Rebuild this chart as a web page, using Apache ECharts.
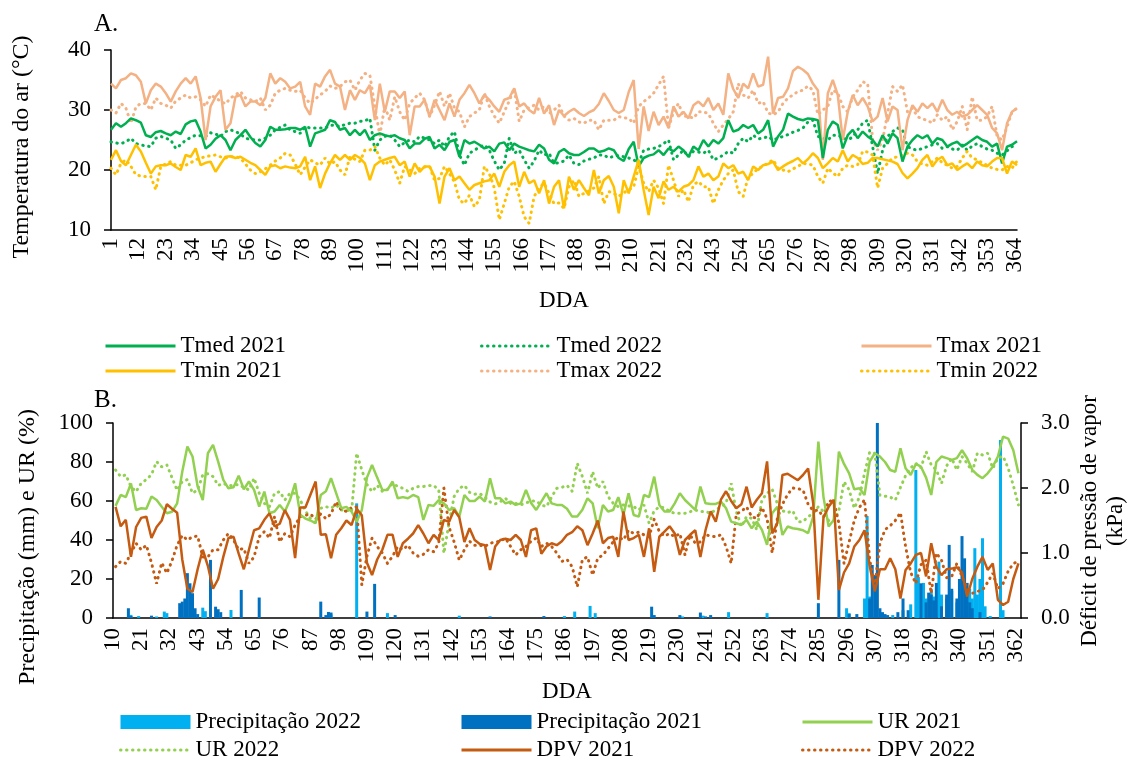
<!DOCTYPE html>
<html>
<head>
<meta charset="utf-8">
<script src="https://cdn.jsdelivr.net/npm/echarts@6/dist/echarts.min.js"></script>
<style>
  html, body { margin: 0; padding: 0; background: #fff; }
  #chart { width: 1128px; height: 760px; }
</style>
</head>
<body>
<div id="chart"></div>
<script>
// Day-of-year categories for the two panels
const daysTop = Array.from({ length: 365 }, (_, i) => String(i + 1));      // 1..365
const daysBottom = Array.from({ length: 355 }, (_, i) => String(i + 10)); // 10..364

// Panel A: air temperature (°C), one value every second day (days 1, 3, 5, ... 365)
const tmax2021 = [
34.4,33.6,35.0,35.3,36.1,35.8,34.7,31.1,33.3,34.4,
33.9,32.8,31.4,33.1,34.4,35.3,34.4,35.6,32.0,25.0,
30.6,32.2,33.3,26.7,27.8,32.2,32.5,30.6,31.4,31.4,
30.8,32.0,36.1,34.4,35.3,34.7,33.6,33.9,34.7,30.6,
29.2,34.4,33.9,35.6,36.7,34.4,33.9,30.0,33.3,31.7,
33.3,32.8,34.2,28.3,34.4,29.7,33.1,33.1,32.0,33.1,
25.8,30.6,30.6,31.7,28.9,31.7,30.0,28.3,31.1,28.9,
31.7,32.8,34.2,32.8,31.1,32.5,31.7,30.6,29.7,31.7,
32.0,33.6,30.6,31.1,30.0,29.4,32.0,29.4,30.8,27.5,
30.0,29.0,29.7,30.2,29.5,29.0,29.6,30.0,31.0,32.8,
31.5,30.0,29.5,30.0,33.0,35.0,23.5,30.6,26.5,29.7,
27.5,28.9,27.0,30.6,28.9,29.7,28.6,30.8,31.4,30.6,
32.0,30.0,31.1,29.2,36.1,33.5,32.0,34.4,33.6,36.1,
33.9,34.2,38.9,29.4,32.0,32.2,33.6,36.5,37.2,36.7,
36.0,34.4,33.3,21.7,32.8,35.0,32.5,25.0,29.7,32.5,
30.8,32.0,30.6,28.1,28.9,32.0,28.1,30.6,30.0,23.3,
28.3,30.8,29.7,31.1,30.3,31.1,29.7,31.7,30.0,29.2,
29.7,28.9,29.2,30.0,30.8,30.0,29.2,27.0,26.1,23.3,
27.8,29.7,30.3];

const tmax2022 = [
30.0,29.5,31.1,30.3,27.8,30.5,31.1,31.1,30.0,32.0,
31.1,30.8,30.3,31.5,32.0,32.5,32.0,32.2,31.7,30.6,
32.5,32.0,31.5,31.0,32.0,32.5,33.1,32.0,31.7,31.4,
32.0,30.0,30.8,32.8,33.3,33.6,33.3,33.1,33.3,32.0,
31.1,31.8,32.5,33.1,34.0,33.6,33.9,34.7,35.0,33.3,
35.0,36.1,35.8,30.6,25.8,30.6,28.3,32.2,29.7,28.3,
31.1,32.0,32.8,31.7,28.9,30.8,33.1,30.6,32.8,30.3,
29.7,27.2,28.9,29.5,30.0,32.8,30.6,29.0,27.8,29.7,
31.5,33.6,28.1,30.0,30.4,30.8,30.0,30.6,29.4,30.0,
30.8,29.0,28.3,28.6,28.0,27.8,28.3,28.3,26.7,28.3,
28.3,28.3,28.9,28.7,28.6,27.8,30.6,31.4,32.0,32.8,
34.2,35.6,27.0,29.7,31.1,28.9,29.0,28.6,29.7,29.7,
29.4,27.8,26.4,27.5,28.5,29.7,34.4,32.5,32.0,33.3,
31.1,31.4,29.5,29.2,29.7,31.1,32.0,32.5,33.1,33.3,
34.0,33.3,29.2,30.0,30.6,33.3,32.8,30.6,29.7,32.2,
33.3,34.7,34.4,25.0,23.3,25.0,29.4,33.9,33.1,34.2,
29.7,30.3,28.9,28.5,28.3,27.8,29.2,28.3,28.9,26.7,
28.1,30.6,26.7,32.2,28.3,28.3,28.9,30.6,25.6,25.0,
27.2,29.7,30.3];

const tmed2021 = [
26.7,27.8,27.2,27.8,28.6,28.3,27.9,25.8,25.5,26.3,
26.5,26.1,25.8,26.4,26.0,27.6,28.1,28.3,26.4,23.6,
24.2,25.2,25.8,25.0,23.3,25.0,25.8,26.7,25.5,24.5,
23.9,25.0,27.2,26.7,26.7,26.8,27.0,27.0,26.7,27.2,
23.9,26.1,26.4,26.7,28.3,28.0,26.7,27.0,25.8,26.7,
25.8,26.7,25.0,25.8,26.1,25.8,25.6,25.8,25.3,25.0,
23.6,24.4,24.4,25.2,25.5,23.6,24.2,23.3,24.7,25.0,
22.2,25.0,24.4,24.7,24.2,23.6,23.9,23.1,24.4,24.6,
23.3,24.4,23.9,23.6,23.3,23.1,24.2,23.6,21.7,21.1,
23.0,23.5,22.8,22.5,22.5,23.0,23.6,23.6,23.0,23.2,
23.6,23.3,22.0,21.5,23.5,24.7,20.6,22.0,22.4,22.6,
23.3,22.5,23.6,23.1,23.9,23.3,22.2,23.9,23.3,25.0,
23.9,25.0,24.4,25.3,28.3,26.4,26.7,27.5,27.0,27.5,
26.1,26.7,28.3,23.9,25.6,26.7,29.4,28.9,28.5,28.3,
28.6,28.5,28.3,22.0,26.7,28.1,27.5,23.6,25.8,26.7,
25.3,26.4,25.6,25.0,23.9,25.8,24.4,26.1,25.3,21.4,
23.9,25.0,25.8,25.3,25.8,24.4,25.3,25.0,23.9,24.4,
24.7,23.9,24.4,25.0,25.6,25.0,24.7,23.9,24.4,21.1,
23.9,24.2,24.8];

const tmed2022 = [
24.7,24.5,24.4,24.7,25.3,24.4,24.2,24.0,23.9,25.3,
25.6,25.3,25.0,23.6,24.2,25.0,25.4,25.8,25.7,25.6,
26.2,26.0,25.6,26.4,26.7,26.4,26.0,25.3,25.1,25.0,
25.0,25.3,25.8,26.7,27.1,27.5,26.7,26.4,26.1,27.2,
27.0,27.0,27.0,27.0,27.4,27.5,27.2,27.6,27.8,27.8,
28.1,28.2,28.6,23.3,25.0,25.6,25.8,25.0,23.9,24.6,
25.0,24.7,25.6,25.3,25.0,24.4,25.0,23.9,25.6,26.4,
22.5,20.8,22.8,23.3,23.8,24.2,23.3,21.5,20.0,21.1,
25.3,22.8,23.3,21.7,20.3,21.5,23.3,22.5,22.8,21.1,
21.2,21.5,22.5,21.1,20.9,21.5,21.8,22.0,22.5,22.5,
22.0,22.3,22.4,22.2,22.0,21.7,21.1,23.3,23.5,23.6,
23.9,24.4,25.0,21.7,22.5,23.3,22.2,23.1,23.0,22.8,
23.3,21.7,22.0,22.5,23.1,22.8,24.4,25.3,24.7,25.8,
25.2,25.3,25.6,25.0,25.3,25.6,25.9,26.3,26.6,27.0,
28.0,28.3,25.6,25.3,25.0,25.8,25.8,25.4,25.0,25.5,
26.7,27.8,28.3,23.9,19.4,23.3,25.6,26.4,27.0,26.7,
23.9,23.5,23.3,23.6,23.9,24.2,24.4,23.6,23.9,23.5,
23.3,24.2,23.3,24.0,24.4,23.9,23.5,23.3,22.8,22.5,
23.2,23.9,24.2];

const tmin2021 = [
21.7,23.3,21.5,20.8,22.5,24.2,23.1,21.2,19.4,20.6,
20.8,20.8,21.1,20.5,20.0,22.5,22.2,23.6,20.8,21.2,
21.4,19.7,21.0,22.2,22.3,22.0,22.2,21.7,21.2,20.8,
20.0,19.2,20.6,20.8,20.3,20.6,20.4,20.3,20.6,22.2,
18.3,20.6,17.0,19.4,21.1,22.5,21.7,22.5,21.7,22.5,
22.0,21.1,18.3,20.8,21.4,21.7,22.0,22.2,20.8,21.4,
18.9,21.1,19.7,20.6,20.6,18.9,14.4,18.9,20.3,18.3,
18.9,17.8,16.7,17.5,17.8,18.1,18.3,19.4,17.2,19.7,
20.8,21.4,17.2,19.7,17.8,18.3,16.1,18.3,14.4,17.2,
18.3,13.6,18.9,16.7,18.3,17.0,15.8,20.0,16.1,18.3,
19.0,17.2,12.8,18.3,16.1,18.9,21.7,16.7,12.5,17.2,
15.3,18.1,16.7,17.2,16.4,17.2,17.5,18.3,20.6,18.9,
19.4,18.3,18.9,21.1,20.3,20.8,19.4,19.7,18.3,20.6,
20.0,20.8,21.0,21.4,20.0,20.6,21.1,21.5,22.0,21.1,
21.8,22.8,22.0,20.3,21.1,22.0,21.4,23.3,21.4,22.5,
22.0,21.0,21.2,22.0,22.0,21.8,21.6,21.4,21.0,19.5,
18.6,19.4,20.3,21.7,22.5,20.6,21.7,22.2,20.8,21.1,
20.0,20.6,21.1,20.3,21.4,20.8,20.6,21.4,22.0,22.0,
19.4,21.4,20.8];

const tmin2022 = [
20.3,19.2,21.1,21.7,20.6,19.2,19.0,18.9,18.9,16.7,
20.6,21.0,21.4,20.8,20.8,20.8,21.2,21.7,22.0,22.2,
22.4,22.5,22.2,22.0,22.2,22.2,22.0,21.0,20.0,19.4,
19.7,20.2,20.8,21.5,22.0,22.8,22.5,21.0,19.2,20.5,
21.7,21.2,20.8,22.0,21.0,21.4,20.0,19.2,22.2,21.8,
21.4,23.3,23.3,23.9,22.0,20.8,21.7,20.0,17.8,20.6,
20.0,19.4,20.3,20.5,20.6,18.3,18.6,20.6,19.4,18.0,
15.0,14.4,15.8,13.9,15.0,20.6,19.4,17.0,11.7,14.4,
17.2,18.1,15.6,12.2,11.1,15.6,17.0,17.8,16.1,14.4,
14.5,13.6,17.2,18.3,15.6,16.1,16.5,17.0,18.9,14.4,
16.4,16.1,15.6,16.2,16.7,17.2,20.6,17.8,16.4,18.3,
17.0,14.4,20.8,18.3,15.6,16.7,14.7,17.5,18.1,17.2,
17.2,14.4,16.7,18.3,19.4,20.0,16.4,15.6,18.9,19.4,
20.3,20.6,21.2,21.7,20.3,20.0,19.7,20.2,20.6,21.1,
21.0,20.8,18.9,17.8,20.3,19.5,18.9,20.3,20.8,20.6,
20.9,23.1,23.0,22.5,17.0,20.3,21.1,22.0,22.2,22.5,
22.8,22.5,21.4,21.0,20.8,21.4,22.0,21.2,20.8,20.3,
20.6,22.0,23.1,22.0,21.7,21.2,20.8,20.3,20.1,20.0,
20.6,20.3,21.5];

// Panel B: relative humidity (%) and vapour pressure deficit (kPa),
// one value every second day (days 11, 13, 15, ... 363)
const ur2021 = [
57.5,63.1,62.0,69.0,55.4,56.3,56.0,62.3,60.5,57.1,
53.7,54.5,58.8,75.0,87.9,82.8,67.4,60.5,84.5,88.8,
80.2,70.8,66.5,67.0,73.0,66.0,70.0,65.7,57.1,64.8,
53.7,54.6,58.0,54.6,60.5,69.1,53.0,51.0,50.0,48.6,
63.1,65.0,71.7,64.0,56.3,57.0,54.6,49.4,55.4,72.0,
78.5,72.0,65.7,65.7,70.0,61.4,62.0,61.4,63.1,62.0,
50.3,58.0,57.5,60.5,58.8,55.4,56.3,52.0,63.1,60.0,
60.0,62.3,59.7,71.7,61.4,61.4,58.8,59.7,58.0,58.8,
65.7,59.0,55.4,59.7,64.0,58.8,58.0,58.0,56.0,52.0,
52.0,55.5,61.4,58.8,46.0,58.0,54.6,55.4,62.0,53.0,
64.0,52.8,52.0,63.1,62.0,72.5,58.0,54.6,54.6,58.8,
64.0,60.5,58.0,55.4,67.4,58.8,58.5,58.5,59.7,56.3,
49.4,48.6,47.7,50.3,46.0,49.4,45.2,37.5,53.7,57.1,
42.6,46.9,46.0,45.6,45.0,43.5,52.0,90.5,62.0,46.9,
50.3,85.3,79.0,74.2,66.0,66.5,63.1,80.2,84.5,82.8,
80.0,75.9,75.0,87.0,76.8,73.4,79.0,77.6,72.0,63.1,
80.0,82.8,82.0,81.1,82.0,86.0,81.9,76.0,73.4,71.7,
74.2,77.6,82.8,93.0,92.0,86.0,74.2];

const ur2022 = [
75.9,72.5,73.4,67.4,64.8,69.1,71.0,73.5,80.2,77.5,
78.5,72.0,65.5,70.0,71.0,64.0,65.7,73.4,74.0,72.5,
68.0,69.0,68.0,68.0,68.5,67.0,65.7,71.7,64.0,58.8,
57.1,64.0,64.8,60.5,64.0,64.0,60.5,55.0,51.0,48.6,
56.3,57.1,56.3,58.0,55.4,55.4,54.5,84.5,75.9,68.5,
64.8,68.0,65.0,66.0,69.0,67.5,66.5,65.0,66.5,67.4,
67.4,68.0,68.0,65.7,33.2,48.6,62.3,66.5,68.0,64.5,
63.5,63.8,62.0,59.5,58.5,59.7,61.4,58.8,58.8,58.0,
59.0,60.0,60.0,58.0,57.1,62.0,66.5,67.0,68.0,65.0,
79.3,72.5,64.0,75.0,66.5,70.0,62.3,58.8,57.1,58.0,
57.5,57.1,55.4,58.0,48.6,55.0,57.0,56.5,54.6,53.7,
53.7,53.7,54.5,55.4,54.6,54.6,53.7,55.5,57.0,58.8,
69.1,54.6,46.9,52.0,51.1,45.2,60.5,64.0,66.0,58.8,
55.0,54.0,55.0,49.4,49.4,52.0,53.5,57.1,54.6,50.0,
50.0,55.0,69.9,65.7,56.3,62.0,74.2,85.0,84.5,63.0,
62.5,62.0,60.5,67.0,73.0,77.0,79.3,77.0,85.3,78.5,
75.9,69.0,78.0,81.9,75.9,82.8,79.3,75.0,84.5,83.6,
84.5,76.8,82.0,83.0,76.8,68.0,58.0];

const dpv2021 = [
1.71,1.41,1.51,0.94,1.40,1.54,1.56,1.23,1.40,1.50,
1.75,1.68,1.62,0.90,0.45,0.40,0.75,1.05,0.80,0.45,
0.60,0.94,1.23,1.25,0.99,0.75,1.05,1.35,1.38,1.51,
1.61,1.41,1.45,1.66,1.51,0.92,1.70,1.70,1.90,2.10,
1.28,1.29,0.92,1.28,1.38,1.50,1.43,1.68,1.58,0.85,
0.66,0.90,1.05,1.28,1.28,0.94,1.15,1.22,1.30,1.43,
1.30,1.15,1.28,1.20,1.51,1.48,1.66,1.55,1.17,1.38,
1.20,1.14,1.12,0.74,1.10,1.20,1.22,1.20,1.28,1.20,
0.94,1.35,1.38,0.99,1.10,1.15,1.12,1.18,1.28,1.32,
1.41,1.35,1.12,1.30,1.50,1.15,1.23,1.25,0.94,1.64,
1.20,1.23,1.28,0.94,1.38,0.71,1.25,1.33,1.41,1.30,
0.97,1.20,1.28,1.35,0.94,1.35,1.64,1.48,1.82,1.95,
1.80,1.69,1.75,2.02,1.70,1.82,1.92,2.41,1.30,1.46,
2.20,2.22,2.17,2.12,2.20,2.30,1.76,0.28,1.55,1.71,
1.82,0.43,0.70,0.84,1.10,1.20,1.35,0.80,0.41,0.75,
0.75,0.92,0.75,0.30,0.74,0.84,0.97,1.00,0.64,1.15,
0.79,0.66,0.75,0.76,0.78,0.70,0.33,0.60,0.79,0.94,
0.74,0.84,0.28,0.20,0.25,0.60,0.84];

const dpv2022 = [
0.79,0.87,0.84,1.00,1.15,1.05,1.12,0.85,0.53,0.85,
0.69,0.88,1.12,1.27,1.20,1.25,1.26,0.94,0.94,1.05,
1.05,1.20,1.30,1.20,1.05,1.07,0.84,0.94,1.25,1.33,
1.23,1.56,1.17,1.30,1.25,1.43,1.56,1.58,1.60,1.52,
1.60,1.53,1.60,1.79,1.66,1.64,1.70,1.71,0.51,0.95,
1.23,1.10,1.00,0.84,0.95,1.10,1.05,1.12,1.00,0.95,
0.98,1.05,1.02,1.15,2.00,1.40,1.17,0.89,1.05,1.18,
1.12,1.12,1.10,1.15,1.17,1.18,1.23,1.10,0.97,1.05,
1.10,1.18,1.23,1.10,1.15,1.10,1.00,0.87,0.90,0.79,
0.48,0.90,0.94,0.66,0.92,0.97,1.07,1.17,1.25,1.20,
1.35,1.30,1.32,1.28,1.25,1.52,1.33,1.26,1.30,1.25,
1.30,0.97,1.28,1.15,1.17,1.28,1.26,1.25,1.28,1.10,
0.84,1.60,1.64,1.71,1.56,1.53,1.70,1.53,1.00,1.53,
1.75,1.90,2.00,1.99,1.97,1.75,1.65,1.66,1.55,1.80,
1.80,1.46,0.84,1.17,1.50,1.70,1.82,0.90,0.48,1.15,
1.36,1.42,1.50,1.62,1.10,0.70,0.53,0.82,0.89,0.38,
1.00,0.89,0.62,0.64,0.84,0.64,0.45,0.38,0.41,0.43,
0.55,0.69,0.45,0.53,0.72,0.84,0.87];

// Daily rainfall (mm) on the days it rained: [day, mm]
const rain2021 = [
[16,5.0],[17,1.0],[25,1.2],[36,7.6],[37,8.4],[38,10.0],[39,23.0],[40,17.8],[41,12.7],[42,5.0],
[43,2.0],[48,29.8],[50,5.8],[51,4.5],[52,3.0],[60,14.4],[67,10.5],[91,8.4],[93,1.5],[94,3.1],
[95,2.8],[109,3.3],[112,17.5],[120,1.5],[157,0.8],[178,1.0],[220,5.8],[221,1.5],[231,1.5],[239,2.8],
[241,0.8],[243,1.5],[285,7.6],[293,29.8],[297,2.0],[300,2.0],[305,10.0],[306,27.2],[307,22.0],[308,100.0],
[309,5.0],[310,3.0],[311,2.0],[312,1.5],[316,3.0],[318,10.0],[320,4.0],[325,17.8],[327,8.0],[328,13.0],
[329,12.0],[330,9.0],[331,18.0],[333,6.0],[335,12.0],[336,37.5],[337,15.0],[339,10.0],[340,20.0],[341,42.0],
[342,30.6],[343,18.0],[344,8.0],[345,5.0],[348,3.0]];

const rain2022 = [
[17,1.6],[20,1.0],[27,0.8],[30,3.3],[31,2.5],[45,5.3],[46,3.5],[56,4.1],[95,1.8],[105,58.8],
[117,2.5],[145,1.2],[186,1.0],[190,3.3],[196,6.2],[198,2.5],[232,0.8],[240,1.2],[250,3.0],[265,2.5],
[296,5.0],[297,2.5],[303,10.0],[304,52.3],[305,11.0],[310,2.0],[314,1.5],[318,4.0],[321,7.0],[323,75.9],
[324,21.0],[326,18.0],[327,10.0],[329,15.0],[330,11.0],[332,28.9],[333,12.0],[335,10.0],[337,14.0],[339,8.0],
[344,15.0],[345,10.0],[346,35.8],[347,12.0],[348,20.0],[349,40.9],[350,6.0],[352,1.0],[356,91.3],[357,4.0]];

const SERIF = '"Liberation Serif", "Times New Roman", serif';
const C = {
  tmed: '#00B050', tmax: '#F4B183', tmin: '#FFC000',
  ur: '#92D050', dpv: '#C55A11', rain22: '#00B0F0', rain21: '#0070C0'
};

// Every-second-day arrays -> [category index, value]
const topPairs = arr => arr.map((v, i) => [2 * i, v]);          // day 1 + 2i
const botPairs = arr => arr.map((v, i) => [1 + 2 * i, v]);      // day 11 + 2i
const rainPairs = arr => arr.map(([d, v]) => [d - 10, v]);

const solid = color => ({ color, width: 2.5, type: 'solid' });
const dotted = color => ({ color, width: 3, type: [0.5, 5.5], cap: 'round' });

function lineSeries(name, data, style, xi, yi) {
  return {
    name, type: 'line', data, xAxisIndex: xi, yAxisIndex: yi,
    symbol: 'none', lineStyle: style, itemStyle: { color: style.color },
    emphasis: { disabled: true }, silent: true
  };
}

const axisText = { fontFamily: SERIF, fontSize: 23, color: '#000' };
const blackLine = { show: true, lineStyle: { color: '#000', width: 1.5 } };

// Legend column: line keys show only the stroke; rainfall keys are filled boxes
function legendBox(left, top, names, gap) {
  return {
    orient: 'vertical', left, top, height: 120, padding: 0,
    itemWidth: 70, itemHeight: 14, itemGap: gap,
    data: names.map(n => n.startsWith('Precipita')
      ? { name: n, icon: 'rect', itemStyle: { opacity: 1 } }
      : { name: n }),
    selectedMode: false,
    itemStyle: { opacity: 0 },
    textStyle: { fontFamily: SERIF, fontSize: 23, color: '#000', lineHeight: 24 },
    lineStyle: { width: 3 }
  };
}

const centered = { align: 'center', verticalAlign: 'middle', textAlign: 'center', textVerticalAlign: 'middle' };
function label(text, x, y, size, rotate) {
  return {
    type: 'text', x, y, rotation: rotate ? Math.PI / 2 : 0,
    style: Object.assign({ text, font: size + 'px ' + SERIF, fill: '#000' }, centered)
  };
}

const chart = echarts.init(document.getElementById('chart'), null, { renderer: 'canvas' });

chart.setOption({
  animation: false,
  backgroundColor: '#fff',
  grid: [
    { left: 111, top: 50, width: 906, height: 180 },
    { left: 113, top: 423, width: 908, height: 195 }
  ],
  xAxis: [
    {
      gridIndex: 0, type: 'category', data: daysTop, boundaryGap: false,
      axisLine: Object.assign({ onZero: false }, blackLine), axisTick: { show: false },
      axisLabel: Object.assign({ interval: 10, rotate: 90, margin: 8 }, axisText),
      splitLine: { show: false }
    },
    {
      gridIndex: 1, type: 'category', data: daysBottom, boundaryGap: false,
      axisLine: Object.assign({ onZero: false }, blackLine), axisTick: { show: false },
      axisLabel: Object.assign({ interval: 10, rotate: 90, margin: 10 }, axisText),
      splitLine: { show: false }
    }
  ],
  yAxis: [
    {
      gridIndex: 0, type: 'value', min: 10, max: 40, interval: 10,
      axisLine: blackLine, axisTick: { show: true, length: 7, lineStyle: { color: '#000', width: 1.5 } },
      axisLabel: Object.assign({ margin: 20 }, axisText), splitLine: { show: false }
    },
    {
      gridIndex: 1, type: 'value', min: 0, max: 100, interval: 20,
      axisLine: blackLine, axisTick: { show: true, length: 7, lineStyle: { color: '#000', width: 1.5 } },
      axisLabel: Object.assign({ margin: 20 }, axisText), splitLine: { show: false }
    },
    {
      gridIndex: 1, type: 'value', position: 'right', min: 0, max: 3, interval: 1,
      axisLine: blackLine, axisTick: { show: true, length: 7, lineStyle: { color: '#000', width: 1.5 } },
      axisLabel: Object.assign({ margin: 20, formatter: v => v.toFixed(1) }, axisText),
      splitLine: { show: false }
    }
  ],
  legend: [
    legendBox(104, 334, ['Tmed 2021', 'Tmin 2021'], 1),
    legendBox(480, 334, ['Tmed 2022', 'Tmax 2022'], 1),
    legendBox(860, 334, ['Tmax 2021', 'Tmin 2022'], 1),
    legendBox(119, 710, ['Precipitação 2022', 'UR 2022'], 4),
    legendBox(460, 710, ['Precipitação 2021', 'DPV 2021'], 4),
    legendBox(801, 710, ['UR 2021', 'DPV 2022'], 4)
  ],
  series: [
    lineSeries('Tmax 2022', topPairs(tmax2022), dotted(C.tmax), 0, 0),
    lineSeries('Tmed 2022', topPairs(tmed2022), dotted(C.tmed), 0, 0),
    lineSeries('Tmin 2022', topPairs(tmin2022), dotted(C.tmin), 0, 0),
    lineSeries('Tmax 2021', topPairs(tmax2021), solid(C.tmax), 0, 0),
    lineSeries('Tmed 2021', topPairs(tmed2021), solid(C.tmed), 0, 0),
    lineSeries('Tmin 2021', topPairs(tmin2021), solid(C.tmin), 0, 0),
    {
      name: 'Precipitação 2022', type: 'bar', xAxisIndex: 1, yAxisIndex: 1,
      data: rainPairs(rain2022), barWidth: 3, barGap: '-100%',
      itemStyle: { color: C.rain22 }, silent: true
    },
    {
      name: 'Precipitação 2021', type: 'bar', xAxisIndex: 1, yAxisIndex: 1,
      data: rainPairs(rain2021), barWidth: 3, barGap: '-100%',
      itemStyle: { color: C.rain21 }, silent: true
    },
    lineSeries('UR 2022', botPairs(ur2022), dotted(C.ur), 1, 1),
    lineSeries('DPV 2022', botPairs(dpv2022), dotted(C.dpv), 1, 2),
    lineSeries('UR 2021', botPairs(ur2021), solid(C.ur), 1, 1),
    lineSeries('DPV 2021', botPairs(dpv2021), solid(C.dpv), 1, 2)
  ],
  graphic: [
    { type: 'text', left: 94, top: 12, style: { text: 'A.', font: '25px ' + SERIF, fill: '#000' } },
    { type: 'text', left: 94, top: 388, style: { text: 'B.', font: '25px ' + SERIF, fill: '#000' } },
    label('Temperatura do ar (°C)', 22, 147, 24, true),
    label('DDA', 564, 301, 23, false),
    label('Precipitação (mm) e UR (%)', 28, 547, 24, true),
    label('Déficit de pressão de vapor', 1090, 521, 23, true),
    label('(kPa)', 1116, 521, 23, true),
    label('DDA', 567, 692, 23, false)
  ]
});
</script>
</body>
</html>
